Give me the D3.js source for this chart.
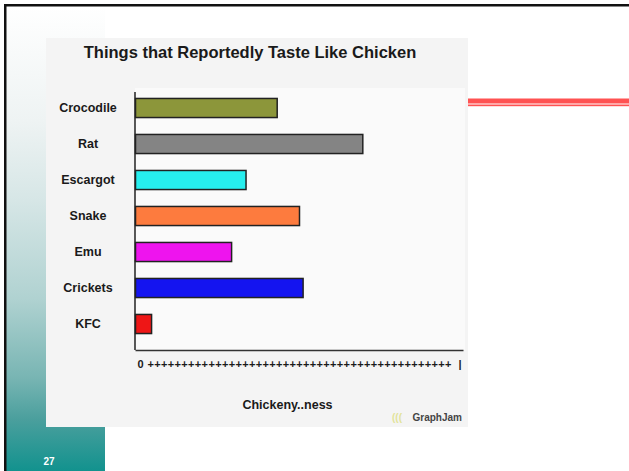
<!DOCTYPE html>
<html lang="en">
    <head>
        <meta charset="utf-8">
        <title>Things that Reportedly Taste Like Chicken</title>
        <script type="text/javascript" src="https://d3js.org/d3.v7.min.js"></script>
        <style type="text/css">
            body { margin: 0; background: #fff; }
            svg { display: block; font-family: "Liberation Sans", Arial, sans-serif; }
        </style>
    </head>
    <body>
        <script type="text/javascript">

                // data
                const foods = ["Crocodile", "Rat", "Escargot", "Snake", "Emu", "Crickets", "KFC"];
                const chickenyness = [43.2, 69.3, 33.7, 50.0, 29.3, 51.1, 4.9];
                const barColors = ["#8c963a", "#848484", "#26eeee", "#fd7b3e", "#ee14ee", "#1414f0", "#ee1616"];
                const tickValues = [0, 50, 100];
                const tickLabels = ["0", "+++++++++++++++++++++++++++++++++++++++++++++", "|"];

                const width = 629;
                const height = 471;

                const svg = d3.select("body")
                              .append("svg")
                              .attr("width", width)
                              .attr("height", height);

                const defs = svg.append("defs");
                const grad = defs.append("linearGradient")
                                 .attr("id", "strip")
                                 .attr("x1", 0).attr("y1", 0)
                                 .attr("x2", 0).attr("y2", 1);
                [["0%", "#ffffff"], ["25%", "#eef3f3"], ["42%", "#d6e6e6"], ["63%", "#b0d2d1"],
                 ["80%", "#78b5b3"], ["89%", "#4a9f9d"], ["100%", "#12928e"]].forEach(s => {
                    grad.append("stop").attr("offset", s[0]).attr("stop-color", s[1]);
                });

                // slide frame
                svg.append("rect")
                    .attr("x", 5).attr("y", 5)
                    .attr("width", 100).attr("height", height - 5)
                    .attr("fill", "url(#strip)");
                svg.append("rect")
                    .attr("x", 4).attr("y", 4)
                    .attr("width", width - 4).attr("height", 2.5)
                    .attr("fill", "#111");
                svg.append("rect")
                    .attr("x", 4).attr("y", 4)
                    .attr("width", 2.5).attr("height", height - 4)
                    .attr("fill", "#111");

                // red double rule on the right
                svg.append("rect")
                    .attr("x", 460).attr("y", 98.5)
                    .attr("width", width - 460).attr("height", 5)
                    .attr("fill", "#ff5252");
                svg.append("rect")
                    .attr("x", 460).attr("y", 104.5)
                    .attr("width", width - 460).attr("height", 1.7)
                    .attr("fill", "#ff5252");

                svg.append("text")
                    .attr("x", 49).attr("y", 464.5)
                    .attr("text-anchor", "middle")
                    .attr("font-size", 10)
                    .attr("font-weight", "bold")
                    .attr("fill", "#fff")
                    .text("27");

                // the chart picture
                const chart = svg.append("g");
                chart.append("rect")
                    .attr("x", 46).attr("y", 38)
                    .attr("width", 422).attr("height", 389)
                    .attr("fill", "#f4f4f4");
                chart.append("rect")
                    .attr("x", 135).attr("y", 88)
                    .attr("width", 330).attr("height", 262)
                    .attr("fill", "#fafafa");

                chart.append("text")
                    .attr("x", 250).attr("y", 58)
                    .attr("text-anchor", "middle")
                    .attr("font-size", 16.5)
                    .attr("font-weight", "bold")
                    .attr("fill", "#1a1a1a")
                    .text("Things that Reportedly Taste Like Chicken");

                const xScale = d3.scaleLinear()
                                 .domain([0, 100])
                                 .range([135, 463]);

                const yScale = d3.scaleBand()
                                 .domain(foods)
                                 .range([90, 342])
                                 .paddingInner(0.47)
                                 .paddingOuter(0.235);

                chart.selectAll(".bar")
                    .data(foods)
                    .enter()
                    .append("rect")
                    .attr("class", "bar")
                    .attr("x", xScale(0) + 0.5)
                    .attr("y", d => yScale(d))
                    .attr("width", (d, i) => xScale(chickenyness[i]) - xScale(0))
                    .attr("height", yScale.bandwidth())
                    .attr("fill", (d, i) => barColors[i])
                    .attr("stroke", "#222")
                    .attr("stroke-width", 1.5);

                // left axis with centred labels
                const leftAxis = d3.axisLeft(yScale).tickSize(0).tickPadding(0);
                const gy = chart.append("g")
                    .attr("transform", "translate(" + xScale(0) + ",0)")
                    .call(leftAxis);
                gy.select(".domain")
                    .attr("d", "M0,92V350")
                    .attr("stroke", "#222")
                    .attr("stroke-width", 1.5);
                gy.selectAll("text")
                    .attr("x", -47)
                    .attr("text-anchor", "middle")
                    .attr("font-family", "Liberation Sans, Arial, sans-serif")
                    .attr("font-size", 12.5)
                    .attr("font-weight", "bold")
                    .attr("fill", "#1a1a1a");

                // bottom axis drawn with plus signs
                const bottomAxis = d3.axisBottom(xScale)
                                     .tickValues(tickValues)
                                     .tickFormat((d, i) => tickLabels[i])
                                     .tickSize(0)
                                     .tickPadding(10);
                const gx = chart.append("g")
                    .attr("transform", "translate(0,350)")
                    .call(bottomAxis);
                gx.select(".domain")
                    .attr("stroke", "#333")
                    .attr("stroke-width", 1.5);
                gx.selectAll("text")
                    .attr("font-family", "Liberation Sans, Arial, sans-serif")
                    .attr("font-size", 11)
                    .attr("font-weight", "bold")
                    .attr("fill", "#1a1a1a")
                    .attr("text-anchor", (d, i) => i === 0 ? "start" : (i === 2 ? "end" : "middle"))
                    .attr("dx", (d, i) => i === 0 ? 2 : (i === 2 ? -2 : 0))
                    .attr("textLength", (d, i) => i === 1 ? 304 : null)
                    .attr("lengthAdjust", "spacing");

                chart.append("text")
                    .attr("x", 287.5).attr("y", 408.5)
                    .attr("text-anchor", "middle")
                    .attr("font-size", 12.5)
                    .attr("font-weight", "bold")
                    .attr("fill", "#1a1a1a")
                    .text("Chickeny..ness");

                // GraphJam mark
                chart.append("text")
                    .attr("x", 392).attr("y", 421)
                    .attr("font-size", 10)
                    .attr("font-weight", "bold")
                    .attr("fill", "#e2e39a")
                    .text("(((");
                chart.append("text")
                    .attr("x", 462).attr("y", 421)
                    .attr("text-anchor", "end")
                    .attr("font-size", 10)
                    .attr("font-weight", "bold")
                    .attr("fill", "#444")
                    .text("GraphJam");

        </script>
    </body>
</html>
